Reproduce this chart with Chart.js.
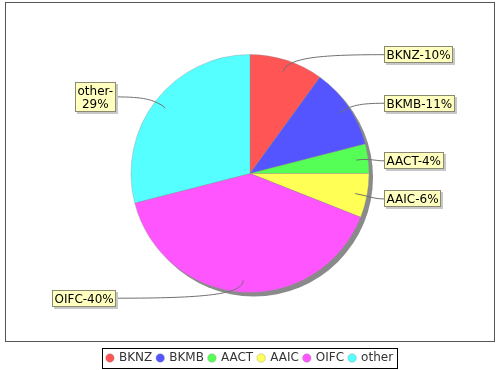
<!DOCTYPE html>
<html>
<head>
<meta charset="utf-8">
<script src="https://cdn.jsdelivr.net/npm/chart.js@4.4.1/dist/chart.umd.min.js"></script>
<style>
  html, body { margin: 0; background: #fff; }
</style>
</head>
<body>
<canvas id="pie" width="500" height="370"></canvas>
<script>
const categories = ["BKNZ", "BKMB", "AACT", "AAIC", "OIFC", "other"];
const shares = [10, 11, 4, 6, 40, 29];
const sliceColors = ["#ff5555", "#5555ff", "#55ff55", "#ffff55", "#ff55ff", "#55ffff"];
// small vertical tweaks for the callout boxes (px), layout only
const labelNudge = [0, 0, 3, 2, 0, 0];

const FONT = '12px "DejaVu Sans", sans-serif';

// grey drop shadow under the pie
const pieShadow = {
  id: "pieShadow",
  beforeDatasetsDraw(chart) {
    const arc = chart.getDatasetMeta(0).data[0];
    if (!arc) return;
    const ctx = chart.ctx;
    ctx.save();
    ctx.fillStyle = "rgba(125,125,125,0.9)";
    ctx.beginPath();
    ctx.arc(arc.x + 4, arc.y + 4, arc.outerRadius, 0, Math.PI * 2);
    ctx.fill();
    ctx.restore();
  },
};

// plot outline + legend outline
const frames = {
  id: "frames",
  beforeDraw(chart) {
    const ctx = chart.ctx;
    ctx.save();
    ctx.strokeStyle = "#555";
    ctx.lineWidth = 1;
    ctx.strokeRect(5.5, 2.5, chart.width - 11, 339);
    ctx.restore();
  },
  afterDraw(chart) {
    const boxes = chart.legend.legendHitBoxes;
    if (!boxes || !boxes.length) return;
    let l = Infinity, r = -Infinity, t = Infinity, b = -Infinity;
    boxes.forEach((h) => {
      l = Math.min(l, h.left);
      r = Math.max(r, h.left + h.width);
      t = Math.min(t, h.top);
      b = Math.max(b, h.top + h.height);
    });
    const ctx = chart.ctx;
    ctx.save();
    ctx.strokeStyle = "#000";
    ctx.lineWidth = 1;
    ctx.strokeRect(Math.round(l - 5) + 0.5, Math.round(t - 4) + 0.5, Math.round(r - l + 9), Math.round(b - t + 8));
    ctx.restore();
  },
};

// JFreeChart-style callout labels with curved links
const callouts = {
  id: "callouts",
  afterDatasetsDraw(chart) {
    const meta = chart.getDatasetMeta(0);
    const ctx = chart.ctx;
    const total = shares.reduce((a, b) => a + b, 0);
    ctx.save();
    ctx.font = FONT;
    meta.data.forEach((arc, i) => {
      const r = arc.outerRadius;
      const mid = (arc.startAngle + arc.endAngle) / 2;
      const cx = Math.cos(mid), sy = Math.sin(mid);
      const right = cx >= 0;
      const text = categories[i] + "-" + Math.round((shares[i] / total) * 100) + "%";
      let lines = [text];
      const maxW = right ? 70 : 60;
      if (ctx.measureText(text).width > maxW) {
        const k = text.indexOf("-") + 1;
        lines = [text.slice(0, k), text.slice(k)];
      }
      const lh = 13, pad = 2;
      const w = Math.max(...lines.map((s) => ctx.measureText(s).width)) + pad * 2 + 1;
      const h = lines.length * lh + pad * 2;
      const ly = arc.y + sy * r * 1.05 + labelNudge[i];
      const bx = right ? arc.x + r + 15 : arc.x - r - 15 - w;
      const by = ly - h / 2;
      const ex = right ? bx : bx + w;

      // link
      const ax = arc.x + cx * r * 0.9, ay = arc.y + sy * r * 0.9;
      const kx = arc.x + cx * r * 1.02, ky = arc.y + sy * r * 1.02;
      ctx.strokeStyle = "#707070";
      ctx.lineWidth = 1;
      ctx.beginPath();
      ctx.moveTo(ax, ay);
      ctx.bezierCurveTo(kx, ky, kx + (ex - kx) * 0.3, ly, ex, ly);
      ctx.stroke();

      // box
      ctx.fillStyle = "#c8c8c8";
      ctx.fillRect(Math.round(bx) + 2, Math.round(by) + 2, Math.round(w), Math.round(h));
      ctx.fillStyle = "#ffffc0";
      ctx.fillRect(Math.round(bx), Math.round(by), Math.round(w), Math.round(h));
      ctx.strokeStyle = "#8a8a70";
      ctx.strokeRect(Math.round(bx) + 0.5, Math.round(by) + 0.5, Math.round(w) - 1, Math.round(h) - 1);

      ctx.fillStyle = "#000";
      ctx.textAlign = "center";
      ctx.textBaseline = "middle";
      lines.forEach((s, j) => {
        ctx.fillText(s, Math.round(bx) + w / 2, Math.round(by) + pad + lh * j + lh / 2 + 1);
      });
    });
    ctx.restore();
  },
};

new Chart(document.getElementById("pie"), {
  type: "pie",
  data: {
    labels: categories,
    datasets: [
      {
        data: shares,
        backgroundColor: sliceColors,
        borderColor: "rgba(140,140,140,0.7)",
        borderWidth: 0.5,
      },
    ],
  },
  options: {
    responsive: false,
    animation: false,
    radius: 119,
    layout: { padding: { top: -4, left: 0, right: 0, bottom: -4 } },
    plugins: {
      tooltip: { enabled: false },
      legend: {
        position: "bottom",
        labels: {
          usePointStyle: true,
          pointStyle: "circle",
          boxWidth: 6,
          boxHeight: 6,
          padding: 5,
          color: "#333",
          font: { family: "DejaVu Sans", size: 12 },
        },
      },
    },
  },
  plugins: [pieShadow, callouts, frames],
});
</script>
</body>
</html>
